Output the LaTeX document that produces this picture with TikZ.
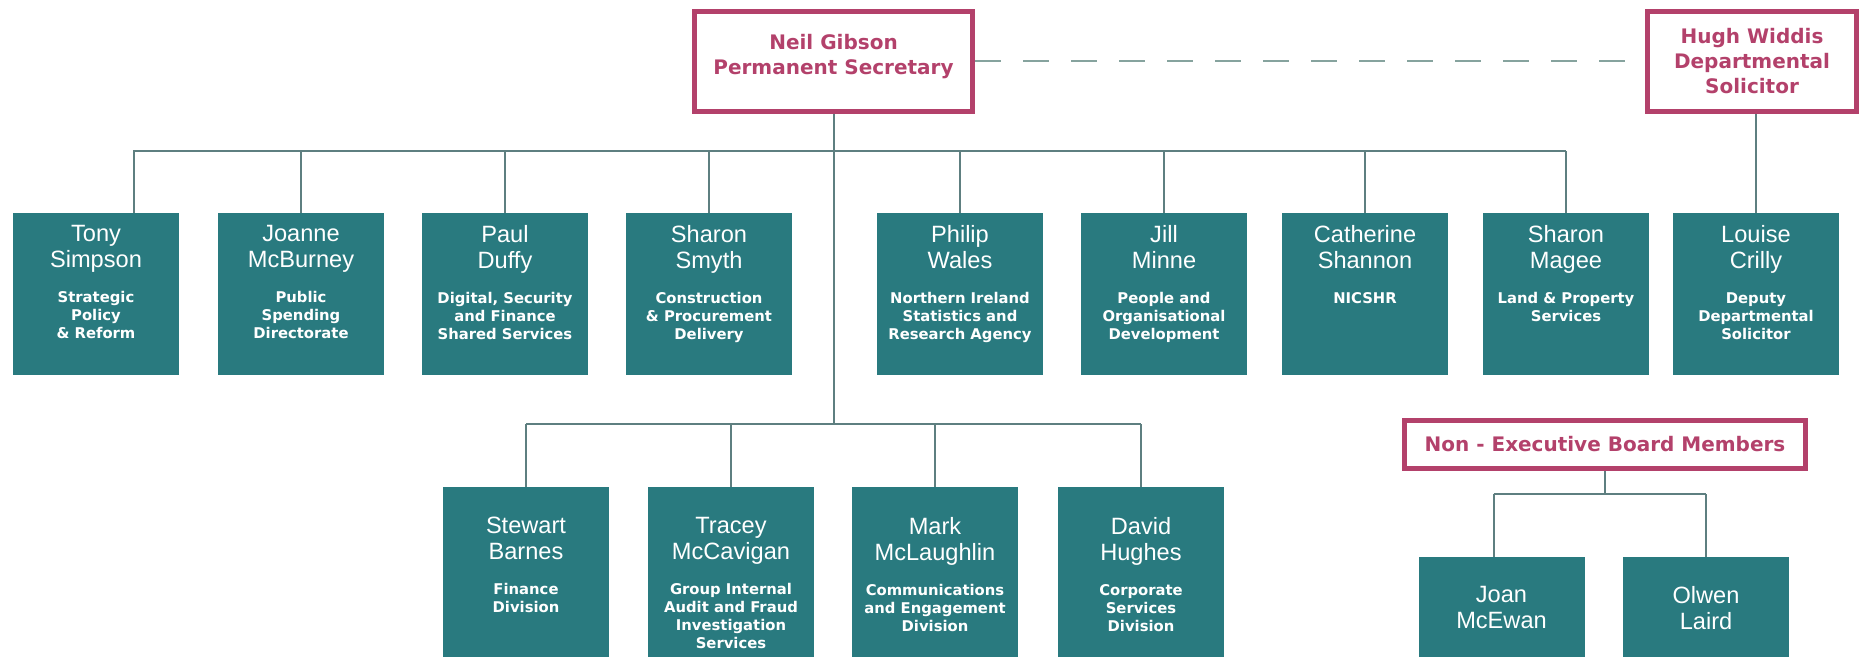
\documentclass[tikz,border=0pt]{standalone}
\usepackage{fontspec}
\setmainfont{Liberation Sans}
\newfontfamily\heavyfont{DejaVu Sans}
\definecolor{dfpteal}{HTML}{297A7F}
\definecolor{dfppink}{HTML}{B3416B}
\definecolor{lngray}{HTML}{5E7F80}
\definecolor{dshgray}{HTML}{86A39E}

\newcommand{\namefont}{\fontsize{11.8}{13}\selectfont}
\newcommand{\unitfont}{\heavyfont\bfseries\fontsize{7.4}{9}\selectfont}
\newcommand{\headfont}{\heavyfont\bfseries\fontsize{10}{12.5}\selectfont}
% card text: box height, top gap, name, unit
\newcommand{\staffcard}[4]{%
  \parbox[c][#1][t]{83pt}{\centering\vspace*{#2}%
    {\namefont #3\par}\vspace{8.5pt}{\unitfont #4\par}}}

\tikzset{
  staffbox/.style={fill=dfpteal,text=white,inner sep=0pt,minimum width=83pt},
  headbox/.style={draw=dfppink,line width=2.5pt,text=dfppink,font=\headfont,
                  align=center,inner sep=0pt},
  link/.style={draw=lngray,line width=1pt},
  dashlink/.style={draw=dshgray,line width=1pt,dash pattern=on 13pt off 11pt}
}

\begin{document}
\begin{tikzpicture}[x=0.5pt,y=-0.5pt]

  \useasboundingbox (0,0) rectangle (1859,657);
  \clip (0,0) rectangle (1859,657);

  % --- heads ---
  \node[headbox,minimum width=139pt,minimum height=50pt,text depth=7pt] (neil)
        at (833.5,61.5) {Neil Gibson\\Permanent Secretary};
  \node[headbox,minimum width=104.5pt,minimum height=50pt] (hugh) at (1752,61.5)
        {Hugh Widdis\\Departmental\\Solicitor};
  \node[headbox,minimum width=200.5pt,minimum height=24pt] (nonexec) at (1605,444.5)
        {Non - Executive Board Members};

  % --- top row ---
  \node[staffbox] (tony) at (96,294)
        {\staffcard{81pt}{6pt}{Tony\\Simpson}{Strategic\\Policy\\\& Reform}};
  \node[staffbox] (joanne) at (301,294)
        {\staffcard{81pt}{6pt}{Joanne\\McBurney}{Public\\Spending\\Directorate}};
  \node[staffbox] (paul) at (505,294)
        {\staffcard{81pt}{6pt}{Paul\\Duffy}{Digital, Security\\and Finance\\Shared Services}};
  \node[staffbox] (sharons) at (709,294)
        {\staffcard{81pt}{6pt}{Sharon\\Smyth}{Construction\\\& Procurement\\Delivery}};
  \node[staffbox] (philip) at (960,294)
        {\staffcard{81pt}{6pt}{Philip\\Wales}{Northern Ireland\\Statistics and\\Research Agency}};
  \node[staffbox] (jill) at (1164,294)
        {\staffcard{81pt}{6pt}{Jill\\Minne}{People and\\Organisational\\Development}};
  \node[staffbox] (catherine) at (1365,294)
        {\staffcard{81pt}{6pt}{Catherine\\Shannon}{NICSHR}};
  \node[staffbox] (sharonm) at (1566,294)
        {\staffcard{81pt}{6pt}{Sharon\\Magee}{Land \& Property\\Services}};
  \node[staffbox] (louise) at (1756,294)
        {\staffcard{81pt}{6pt}{Louise\\Crilly}{Deputy\\Departmental\\Solicitor}};

  % --- lower row ---
  \node[staffbox] (stewart) at (526,582)
        {\staffcard{95pt}{15pt}{Stewart\\Barnes}{Finance\\Division}};
  \node[staffbox] (tracey) at (731,582)
        {\staffcard{95pt}{15pt}{Tracey\\McCavigan}{Group Internal\\Audit and Fraud\\Investigation\\Services}};
  \node[staffbox] (mark) at (935,582)
        {\staffcard{95pt}{15pt}{Mark\\McLaughlin}{Communications\\and Engagement\\Division}};
  \node[staffbox] (david) at (1141,582)
        {\staffcard{95pt}{15pt}{David\\Hughes}{Corporate\\Services\\Division}};

  % --- board members ---
  \node[staffbox] (joan) at (1501.5,617)
        {\staffcard{60pt}{14.5pt}{Joan\\McEwan}{}};
  \node[staffbox] (olwen) at (1706,617)
        {\staffcard{60pt}{14.5pt}{Olwen\\Laird}{}};

  % --- connectors ---
  \coordinate (topbar) at (833,151);
  \coordinate (lowbar) at (833,424);
  \coordinate (boardbar) at (1604,494);

  \draw[dashlink] (neil.east) -- (hugh.west);
  \draw[link] (neil.south) -- (neil.south |- lowbar);

  \draw[link] ([xshift=19pt]tony.north) -- ([xshift=19pt]tony.north |- topbar)
              -- (sharonm.north |- topbar);
  \foreach \unit in {joanne,paul,sharons,philip,jill,catherine,sharonm}
    \draw[link] (\unit.north) -- (\unit.north |- topbar);
  \draw[link] (louise.north |- hugh.south) -- (louise.north);

  \draw[link] (stewart.north |- lowbar) -- (david.north |- lowbar);
  \foreach \unit in {stewart,tracey,mark,david}
    \draw[link] (\unit.north) -- (\unit.north |- lowbar);

  \draw[link] (nonexec.south) -- (nonexec.south |- boardbar);
  \draw[link] ([xshift=-4pt]joan.north |- boardbar) -- (olwen.north |- boardbar);
  \draw[link] ([xshift=-4pt]joan.north) -- ([xshift=-4pt]joan.north |- boardbar);
  \draw[link] (olwen.north) -- (olwen.north |- boardbar);

\end{tikzpicture}
\end{document}
